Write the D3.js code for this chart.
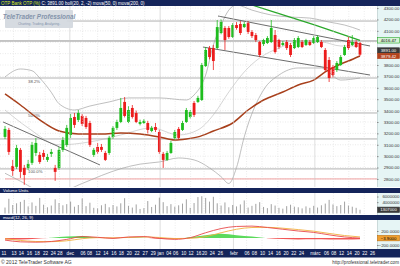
<!DOCTYPE html>
<html>
<head>
<meta charset="utf-8">
<title>OTP Bank</title>
<script src="https://cdnjs.cloudflare.com/ajax/libs/d3/7.8.5/d3.min.js"></script>
<style>
  body { margin: 0; background: #fff; }
  svg { display: block; font-family: "Liberation Sans", Arial, sans-serif; }
</style>
</head>
<body>
<script>
'use strict';

// daily candles (HUF)
const opens = [3169,3230,2914,2906,3055,2897,2897,2941,3028,3011, 3028,2967,3020,2897,2897,3055,3099,3186,3344,3318,
  3353,3335,3291,3011,3081,3081,3028,3028,3169,3248, 3300,3476,3300,3423,3379,3283,3291,3291,3221,3256,
  3212,3020,2967,3028,3160,3239,3230,3300,3344,3467, 3476,3493,3791,3949,3949,3949,4081,4125,4125,4046,
  4151,4160,4133,4168,4090,4063,4002,3984,3993,4002, 4063,4019,3976,4002,3976,3949,3958,4002,3976,4002,
  3993,4002,4002,3932,3844,3783,3756,3800,3888,4019, 3976,4002,3993];
const highs = [3265,3248,2967,3099,3072,2923,2967,3125,3160,3037, 3055,3020,3063,2923,3081,3169,3274,3370,3379,3405,
  3370,3353,3310,3072,3116,3107,3046,3178,3265,3320, 3511,3519,3440,3449,3400,3320,3325,3310,3265,3291,
  3230,3037,3046,3134,3230,3256,3310,3423,3405,3484, 3530,3818,3958,3967,3976,4195,4200,4142,4142,4168,
  4177,4186,4177,4186,4107,4081,4011,4030,4054,4195, 4107,4030,4011,4019,3993,4037,4054,4019,4030,4019,
  4054,4063,4019,3949,3870,3800,3835,3888,3976,4046, 4063,4019,4002];
const lows = [3150,3011,2827,2888,2809,2748,2879,2923,3002,2932, 2967,2949,2993,2783,2879,3037,3081,3160,3248,3300,
  3265,3239,3081,2993,3020,3037,2958,3011,3151,3230, 3290,3340,3290,3330,3290,3270,3283,3200,3210,3212,
  3020,2897,2958,3020,3142,3142,3221,3291,3330,3344, 3467,3484,3783,3850,3756,3940,4070,3932,4030,4037,
  4110,4063,4125,4072,4037,4002,3870,3967,3984,3993, 3900,3940,3967,3932,3870,3940,3949,3949,3967,3967,
  3984,3993,3949,3739,3651,3690,3739,3791,3880,3932, 3967,3949,3880];
const closes = [3239,3037,2870,3072,2862,2835,2932,3099,3116,2949, 2993,2993,3037,2862,3055,3142,3248,3335,3274,3379,
  3283,3256,3099,3055,3037,3055,2967,3160,3248,3300, 3423,3353,3405,3344,3300,3300,3310,3230,3248,3230,
  3037,2967,3028,3116,3212,3160,3291,3405,3388,3362, 3511,3800,3932,3870,3835,4133,4177,4019,4046,4151,
  4125,4081,4160,4090,4054,4019,3888,4019,4037,4125, 3914,3958,3993,3949,3888,4019,4037,3958,4019,3976,
  4037,4046,3958,3756,3686,3712,3818,3870,3958,3949, 4002,3958,3891];

// volume, millions of units
const volumes = [2.1,5.2,3.0,3.6,4.1,4.8,2.5,3.9,2.7,5.5, 3.1,2.2,2.8,5.0,3.7,2.9,3.3,4.2,2.4,3.0,
  5.3,2.6,3.8,2.0,1.8,2.9,3.4,2.2,3.0,2.5, 3.6,5.4,2.7,2.1,3.2,1.6,1.9,4.4,2.3,3.1,
  5.6,4.0,2.6,3.3,2.4,2.9,3.5,5.0,2.0,3.7, 5.8,6.1,5.5,4.2,5.9,3.6,2.8,3.9,2.2,3.0,
  2.5,3.2,4.6,2.1,2.7,3.4,4.0,2.3,1.9,3.3, 2.8,2.0,1.7,2.6,3.1,2.4,2.2,1.8,2.5,2.0,
  2.7,2.1,2.9,3.5,4.8,3.2,2.6,3.0,4.2,2.8, 2.4,2.0,1.307];

// bollinger bands (20, 2)
const bollUpIdx = [0,4,7,9,12,14,18,22,27,32,40,47,49,52,54,56,58,60,64,69,74,79,84,88,92];
const bollUpVal = [3695,3765,3750,3686,3560,3460,3405,3440,3476,3511,3511,3493,3537,3712,3976,4151,4282,4326,4282,4239,4221,4212,4177,4151,4107];
const bollMidIdx = [0,6,14,22,30,38,45,50,54,58,62,66,71,76,82,87,92];
const bollMidVal = [3405,3248,3099,3125,3186,3248,3186,3230,3362,3563,3739,3862,3949,4002,4002,3967,3967];
const bollLowIdx = [0,4,9,14,20,25,30,35,40,45,49,53,56,58,60,62,67,71,76,82,87,92];
const bollLowVal = [2850,2780,2700,2690,2760,2830,2890,2930,2949,2984,2967,2897,2820,2760,2900,3169,3581,3712,3774,3774,3668,3686];

// moving averages
const ma50Idx = [0,4,9,14,19,25,30,35,40,44,47,50,54,59,63,67,72,76,80,83,87,89,92];
const ma50Val = [3546,3449,3318,3221,3195,3195,3204,3195,3169,3142,3151,3169,3221,3291,3405,3493,3563,3625,3668,3739,3809,3835,3879.42];
const ma200Idx = [60,70,80,92];
const ma200Val = [4370,4262,4154,4016.47];

// hand drawn trend lines [index, price]
const trendStart = [[-0.5, 3300], [55.2, 4230], [51.3, 3958]];
const trendEnd = [[24.6, 2923], [94.6, 3967], [94.6, 3712]];

// horizontal level lines
const levelVals = [4186, 4011, 3686, 3379, 3151, 2888];
const levelFrom = [16, -2, -2, -2, -2, -2];
const fibLabels = ['38.2%', '50.0%', '100.0%'];
const fibVals = [3686, 3379, 2888];
const supportVal = 2800;

// macd (12, 26, 9)
const macdIdx = [0,4,8,12,16,20,24,28,32,36,40,44,48,52,56,60,64,68,72,76,80,84,88,92];
const macdVal = [-60,-110,-120,-100,-40,40,20,-10,30,40,-10,-40,10,150,270,330,340,300,250,200,160,90,30,-3.9];
const signalVal = [-20,-70,-100,-105,-80,-20,10,5,15,30,15,-15,-10,40,150,250,300,305,280,240,195,130,70,30];
const histVal = [-40,-40,-20,5,40,60,10,-15,15,10,-25,-25,20,80,120,80,40,-5,-30,-40,-35,-40,-40,-34];

// date axis
const tickIdx = [-0.4,2.2,4.1,6.2,8.2,10.4,12.4,14.1,16.8,20.1,21.8,24,26,28.1,30,32.1,34.1,36.2,38.3,40.2,
  42.3,44.1,46.2,48.1,50.1,51.6,53.6,55.7,59.2,62.6,64.5,66.6,68.7,70.7,72.7,74.7,76.7,80.3,83.2,85.1,87.1,89.1,91.1,93.1,95.1];
const tickLabels = ['11','13','14','16','18','22','24','28','dec','06','08','12','14','16','18','20','22','27','29','jan',
  '04','06','10','12','16','20','24','26','febr','06','08','10','14','16','20','22','24','márc','06','08','12','14','20','22','26'];
const priceTicks = d3.range(2800, 4301, 100);

(function() {
  const svg = d3.select('body').append('svg').attr('width', 400).attr('height', 266);
  const plotR = 377;
  const navy = '#14245a';
  const last = closes.length - 1;

  const x = d3.scaleLinear().domain([0, 92]).range([5, 360]);
  const y = d3.scaleLinear().domain([2738, 4318]).range([186, 6]);
  const yv = d3.scaleLinear().domain([0, 6]).range([213.5, 196.5]);
  const ym = d3.scaleLinear().domain([-286, 486]).range([248, 221]);

  // backgrounds
  svg.append('rect').attr('width', 400).attr('height', 266).attr('fill', '#fff');
  [[6, 187], [193, 215], [220, 249]].forEach(r => {
    svg.append('rect').attr('x', plotR).attr('y', r[0]).attr('width', 400 - plotR).attr('height', r[1] - r[0])
      .attr('fill', '#e6f5f5');
    svg.append('line').attr('x1', plotR + 0.5).attr('x2', plotR + 0.5).attr('y1', r[0]).attr('y2', r[1])
      .attr('stroke', '#b8c8c8').attr('stroke-width', 0.6);
  });

  const defs = svg.append('defs');
  defs.append('clipPath').attr('id', 'clipMain').append('rect')
    .attr('x', 0).attr('y', 6).attr('width', plotR).attr('height', 181);
  defs.append('clipPath').attr('id', 'clipPos').append('rect')
    .attr('x', 0).attr('y', 220).attr('width', plotR).attr('height', ym(0) - 220);
  defs.append('clipPath').attr('id', 'clipNeg').append('rect')
    .attr('x', 0).attr('y', ym(0)).attr('width', plotR).attr('height', 249 - ym(0));

  const main = svg.append('g').attr('clip-path', 'url(#clipMain)');

  // grid
  main.selectAll('.hgrid').data(priceTicks).enter().append('line')
    .attr('x1', 0).attr('x2', plotR).attr('y1', d => y(d)).attr('y2', d => y(d))
    .attr('stroke', '#d4d4d4').attr('stroke-width', 0.5).attr('stroke-dasharray', '1,1.5');
  const monthTicks = tickIdx.filter((d, i) => isNaN(+tickLabels[i]));
  const gridTicks = tickIdx.filter((d, i) => i % 2 === 1 && !isNaN(+tickLabels[i]));
  [[6, 187], [193, 215], [220, 249]].forEach(r => {
    svg.selectAll(null).data(gridTicks).enter().append('line')
      .attr('x1', d => x(d)).attr('x2', d => x(d)).attr('y1', r[0]).attr('y2', r[1])
      .attr('stroke', '#d8d8d8').attr('stroke-width', 0.5).attr('stroke-dasharray', '1,1.5');
    svg.selectAll(null).data(monthTicks).enter().append('line')
      .attr('x1', d => x(d)).attr('x2', d => x(d)).attr('y1', r[0]).attr('y2', r[1])
      .attr('stroke', '#c8c8c8').attr('stroke-width', 0.6);
  });

  // horizontal levels
  main.selectAll('.lvl').data(levelVals).enter().append('line')
    .attr('x1', (d, i) => Math.max(0, x(levelFrom[i]))).attr('x2', plotR)
    .attr('y1', d => y(d)).attr('y2', d => y(d))
    .attr('stroke', (d, i) => i === 1 ? '#808080' : '#a8a8a8').attr('stroke-width', 0.9);
  main.append('line').attr('x1', x(0)).attr('x2', plotR).attr('y1', y(supportVal)).attr('y2', y(supportVal))
    .attr('stroke', '#f0a0a0').attr('stroke-width', 1);

  main.selectAll('.fib').data(fibLabels).enter().append('text')
    .attr('x', 28).attr('y', (d, i) => y(fibVals[i]) + 4.5)
    .attr('font-size', 4.3).attr('fill', '#555').text(d => d);

  // overlay lines
  function drawLine(g, idxArr, valArr, scale, color, width, curve) {
    const pts = idxArr.map((d, i) => [d, valArr[i]]);
    g.append('path').datum(pts)
      .attr('d', d3.line().x(d => x(d[0])).y(d => scale(d[1])).curve(curve || d3.curveMonotoneX))
      .attr('fill', 'none').attr('stroke', color).attr('stroke-width', width);
  }
  drawLine(main, bollUpIdx, bollUpVal, y, '#a4a4a4', 0.7);
  drawLine(main, bollMidIdx, bollMidVal, y, '#b8b8b8', 0.6);
  drawLine(main, bollLowIdx, bollLowVal, y, '#a4a4a4', 0.7);

  trendStart.forEach((s, i) => {
    main.append('line').attr('x1', x(s[0])).attr('y1', y(s[1]))
      .attr('x2', x(trendEnd[i][0])).attr('y2', y(trendEnd[i][1]))
      .attr('stroke', '#5a5a5a').attr('stroke-width', 0.9);
  });

  drawLine(main, ma200Idx, ma200Val, y, '#2aa82a', 1.2, d3.curveLinear);
  drawLine(main, ma50Idx, ma50Val, y, '#a8401c', 1.5);

  // candles
  const bw = 2.8;
  const candles = main.selectAll('.candle').data(closes).enter().append('g');
  const col = (d, i) => d >= opens[i] ? '#1ebd1e' : '#ec1c1c';
  candles.append('line')
    .attr('x1', (d, i) => x(i)).attr('x2', (d, i) => x(i))
    .attr('y1', (d, i) => y(highs[i])).attr('y2', (d, i) => y(lows[i]))
    .attr('stroke', col).attr('stroke-width', 0.8);
  candles.append('rect')
    .attr('x', (d, i) => x(i) - bw / 2).attr('width', bw)
    .attr('y', (d, i) => y(Math.max(d, opens[i])))
    .attr('height', (d, i) => Math.max(1, Math.abs(y(d) - y(opens[i]))))
    .attr('fill', col);

  // watermark
  const wm = svg.append('g');
  wm.append('rect').attr('x', 5).attr('y', 10).attr('width', 68).attr('height', 18).attr('rx', 1)
    .attr('fill', '#d3d8de').attr('opacity', 0.92);
  wm.append('text').attr('x', 39).attr('y', 19).attr('text-anchor', 'middle')
    .attr('font-size', 6.4).attr('font-weight', 'bold').attr('font-style', 'italic')
    .attr('fill', '#8393ab').text('TeleTrader Professional');
  wm.append('text').attr('x', 39).attr('y', 25).attr('text-anchor', 'middle')
    .attr('font-size', 3.3).attr('fill', '#8393ab').text('Charting. Trading. Analyzing.');

  // title bar
  svg.append('rect').attr('x', 0).attr('y', 0).attr('width', 400).attr('height', 6).attr('fill', navy);
  const title = svg.append('text').attr('x', 1).attr('y', 4.6).attr('font-size', 4.5);
  title.append('tspan').attr('fill', '#d8ec20').text('OTP Bank OTP (%) ');
  title.append('tspan').attr('fill', '#ffffff')
    .text('C: ' + d3.format('.2f')(closes[last]) + ' boll(20, 2, -2) mova(50, 0) mova(200, 0)');

  // last value boxes on the price axis
  const boxes = [
    { v: ma200Val[ma200Val.length - 1], fill: '#d6f3d6', stroke: '#2aa82a', color: '#000' },
    { v: closes[last], fill: '#3a3a3a', stroke: '#3a3a3a', color: '#fff' },
    { v: ma50Val[ma50Val.length - 1], fill: '#b4421c', stroke: '#b4421c', color: '#fff' }
  ];
  boxes.forEach(b => { b.y = y(b.v); });
  boxes.sort((a, b) => a.y - b.y);
  for (let i = boxes.length - 2; i >= 0; i--) {
    if (boxes[i + 1].y - boxes[i].y < 5.5) boxes[i].y = boxes[i + 1].y - 5.5;
  }

  // price axis, labels hidden under the boxes are left out
  const shownTicks = priceTicks.filter(t => boxes.every(b => Math.abs(y(t) - b.y) > 5));
  function styleAxis(g) {
    g.select('.domain').remove();
    g.selectAll('line').attr('stroke', '#888');
    g.selectAll('text').attr('x', 22.5).attr('text-anchor', 'end')
      .attr('font-size', 4.4).attr('fill', '#333').attr('font-family', null);
  }
  svg.append('g').attr('transform', 'translate(' + plotR + ',0)')
    .call(d3.axisRight(y).tickValues(shownTicks).tickFormat(d3.format('.2f')).tickSize(1.5))
    .call(styleAxis);

  function valueBox(yPos, text, fill, stroke, color) {
    svg.append('rect').attr('x', 377.5).attr('y', yPos - 2.7).attr('width', 22).attr('height', 5.4)
      .attr('fill', fill).attr('stroke', stroke).attr('stroke-width', 0.6);
    svg.append('text').attr('x', 388.5).attr('y', yPos + 1.6).attr('text-anchor', 'middle')
      .attr('font-size', 4.3).attr('fill', color).text(text);
  }
  boxes.forEach(b => valueBox(b.y, d3.format('.2f')(b.v), b.fill, b.stroke, b.color));

  // volume panel
  svg.append('rect').attr('x', 0).attr('y', 188).attr('width', 400).attr('height', 5).attr('fill', navy);
  svg.append('text').attr('x', 3).attr('y', 191.9).attr('font-size', 4.3).attr('fill', '#fff').text('Volume Units');
  svg.selectAll('.vol').data(volumes).enter().append('line')
    .attr('x1', (d, i) => x(i)).attr('x2', (d, i) => x(i))
    .attr('y1', yv(0)).attr('y2', d => yv(d))
    .attr('stroke', '#8a8a8a').attr('stroke-width', 0.8);
  svg.append('g').attr('transform', 'translate(' + plotR + ',0)')
    .call(d3.axisRight(yv).tickValues([4, 6]).tickFormat(d => d3.format('d')(d * 1e6)).tickSize(1.5))
    .call(styleAxis);
  const lastVol = volumes[last];
  valueBox(yv(lastVol), d3.format('d')(lastVol * 1e6), '#3a3a3a', '#3a3a3a', '#fff');

  // macd panel
  svg.append('rect').attr('x', 0).attr('y', 215).attr('width', 400).attr('height', 5).attr('fill', navy);
  svg.append('text').attr('x', 3).attr('y', 218.9).attr('font-size', 4.3).attr('fill', '#fff').text('macd(12, 26, 9)');
  const histPts = macdIdx.map((d, i) => [d, histVal[i]]);
  const histArea = d3.area().x(d => x(d[0])).y0(ym(0)).y1(d => ym(d[1])).curve(d3.curveMonotoneX);
  svg.append('path').datum(histPts).attr('d', histArea).attr('fill', '#3fd43f')
    .attr('opacity', 0.85).attr('clip-path', 'url(#clipPos)');
  svg.append('path').datum(histPts).attr('d', histArea).attr('fill', '#f03a3a')
    .attr('opacity', 0.85).attr('clip-path', 'url(#clipNeg)');
  drawLine(svg, macdIdx, signalVal, ym, '#f2b040', 0.9);
  drawLine(svg, macdIdx, macdVal, ym, '#e84a4a', 0.9);
  svg.append('g').attr('transform', 'translate(' + plotR + ',0)')
    .call(d3.axisRight(ym).tickValues([-200, 200]).tickFormat(d3.format('.4f')).tickSize(1.5))
    .call(styleAxis);
  const lastMacd = macdVal[macdVal.length - 1];
  valueBox(ym(lastMacd), d3.format('.4f')(lastMacd), '#f0a030', '#c07010', '#000');

  // date axis bar
  svg.append('rect').attr('x', 0).attr('y', 249).attr('width', 400).attr('height', 8.5).attr('fill', navy);
  const xAxis = svg.append('g').attr('transform', 'translate(0,255)')
    .call(d3.axisBottom(x).tickValues(tickIdx).tickFormat((d, i) => tickLabels[i]).tickSize(0).tickPadding(0));
  xAxis.select('.domain').remove();
  xAxis.selectAll('text').attr('y', 0).attr('dy', 0).attr('font-size', 4.6).attr('fill', '#fff')
    .attr('font-family', null);

  // footer
  svg.append('text').attr('x', 1).attr('y', 263.5).attr('font-size', 5).attr('fill', '#333')
    .text('© 2012 TeleTrader Software AG');
  svg.append('text').attr('x', 399).attr('y', 263.5).attr('text-anchor', 'end').attr('font-size', 4.6)
    .attr('fill', '#333').text('http://professional.teletrader.com');
})();
</script>
</body>
</html>
